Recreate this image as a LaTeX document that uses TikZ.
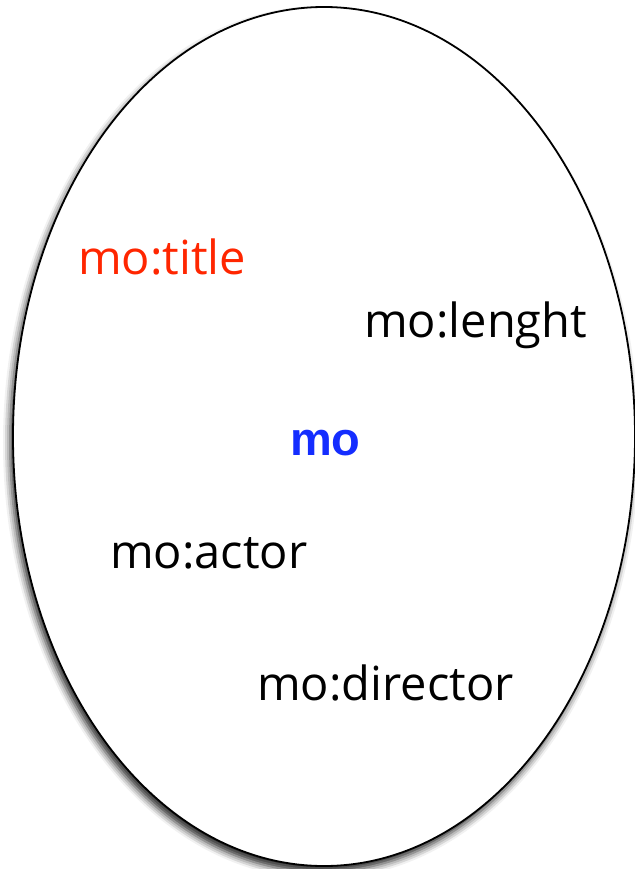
\documentclass[tikz,border=0pt]{standalone}
\usepackage{fontspec}
\setmainfont{Open Sans}
\newfontfamily\boldsans{Liberation Sans}
\usetikzlibrary{shadows.blur}
\definecolor{termred}{RGB}{255,38,0}
\definecolor{termblue}{RGB}{20,45,255}
\tikzset{
  term/.style={anchor=base west, inner sep=0pt, font=\fontsize{47}{52}\selectfont},
  hub/.style={anchor=base west, inner sep=0pt, text=termblue,
    font=\boldsans\bfseries\fontsize{47}{52}\selectfont},
  vocab/.style={draw=black, line width=1.8pt, fill=white,
    blur shadow={shadow xshift=-3pt, shadow yshift=-6pt,
      shadow blur radius=7pt, shadow opacity=85}}
}
\begin{document}
\begin{tikzpicture}[x=1pt, y=-1pt]
  \useasboundingbox (0,0) rectangle (634,869);
  % namespace ellipse
  \path[vocab] (324,436.5) ellipse [x radius=311, y radius=429.5];
  % namespace prefix and its terms
  \node[hub] (mo) at (290,455) {mo};
  \node[term, text=termred] (title) at (78,274) {mo:title};
  \node[term] (lenght) at (364,337) {mo:lenght};
  \node[term] (actor) at (110,568) {mo:actor};
  \node[term] (director) at (257,700) {mo:director};
\end{tikzpicture}
\end{document}
